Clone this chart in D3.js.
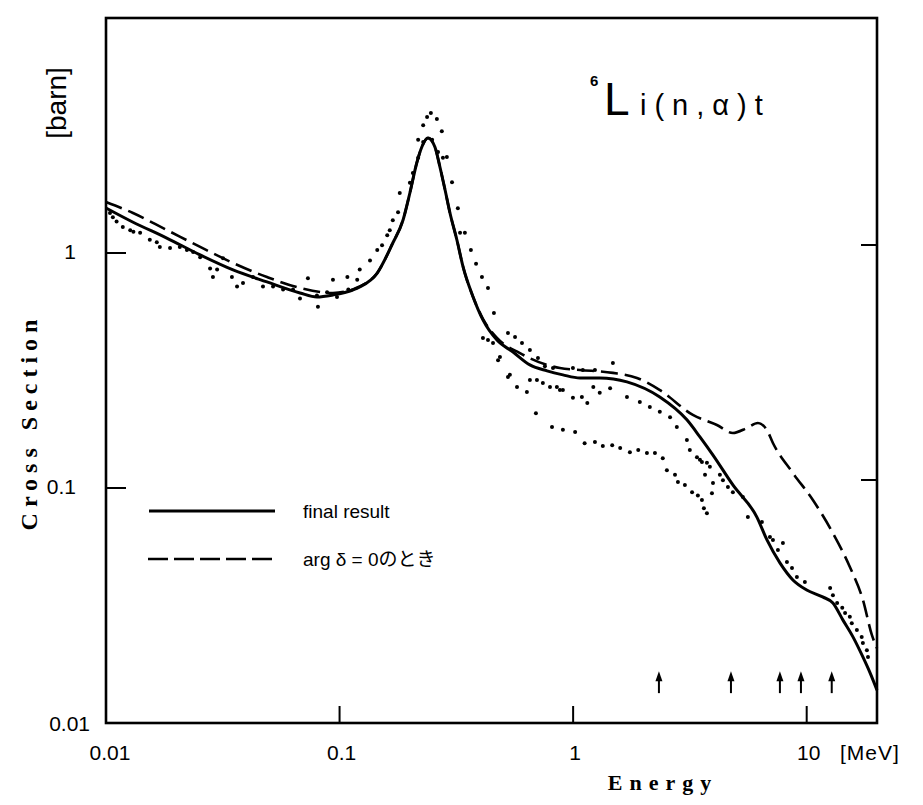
<!DOCTYPE html>
<html>
<head>
<meta charset="utf-8">
<script src="https://cdn.jsdelivr.net/npm/d3@7"></script>
<style>
body { margin: 0; background: #fff; }
</style>
</head>
<body>
<div id="canvas"></div>
<script>
"use strict"

/* Drawing size and plot frame */
let svgWidth = 923;
let svgHeight = 805;
let plotLeft = 106, plotRight = 877, plotTop = 18, plotBottom = 723;

/* final result (solid line): energy [MeV], cross section [barn] */
let solidEnergy = [0.01, 0.013, 0.0182, 0.0253, 0.035, 0.0489, 0.0677, 0.08, 0.0937, 0.114, 0.122,
    0.145, 0.169, 0.187, 0.2, 0.214, 0.225, 0.239, 0.256, 0.269, 0.283, 0.297, 0.318, 0.338,
    0.373, 0.411, 0.472, 0.553, 0.653, 0.773, 0.904, 1.07, 1.30, 1.70, 2.35, 3.07, 3.49, 3.97,
    4.83, 6.12, 6.76, 7.68, 8.73, 10.0, 11.7, 12.95, 14.3, 15.8, 17.4, 18.7, 20];
let solidSigma = [1.554, 1.355, 1.158, 0.981, 0.847, 0.753, 0.676, 0.65, 0.663, 0.696, 0.717,
    0.822, 1.103, 1.382, 1.80, 2.415, 2.826, 3.086, 2.826, 2.323, 1.854, 1.48, 1.136, 0.872,
    0.65, 0.519, 0.426, 0.379, 0.334, 0.315, 0.303, 0.294, 0.294, 0.283, 0.244, 0.195, 0.165, 0.138,
    0.103, 0.0752, 0.0601, 0.048, 0.0406, 0.0368, 0.0344, 0.0324, 0.0274, 0.0232, 0.0191, 0.0163, 0.0138];

/* arg delta = 0 (dashed line) */
let dashEnergy = [0.01, 0.01305, 0.0182, 0.0253, 0.035, 0.0489, 0.0677, 0.0937, 0.114, 0.122,
    0.145, 0.169, 0.187, 0.2, 0.214, 0.225, 0.239, 0.256, 0.269, 0.283, 0.297, 0.318, 0.338,
    0.373, 0.411, 0.472, 0.592, 0.773, 0.878, 1.069, 1.48, 1.876, 2.353, 3.256, 4.127, 4.83,
    5.546, 6.181, 6.756, 7.168, 8.729, 10.63, 12.95, 15.31, 17.41, 19.01, 20];
let dashSigma = [1.648, 1.48, 1.253, 1.061, 0.907, 0.79, 0.71, 0.676, 0.70, 0.72,
    0.822, 1.103, 1.382, 1.80, 2.415, 2.826, 3.086, 2.826, 2.323, 1.854, 1.48, 1.136, 0.872,
    0.65, 0.525, 0.435, 0.375, 0.334, 0.324, 0.318, 0.309, 0.294, 0.261, 0.2045, 0.1854, 0.1714,
    0.180, 0.189, 0.1765, 0.1554, 0.1158, 0.0889, 0.0643, 0.0461, 0.0334, 0.0237, 0.0208];

/* measured points, [energy, cross section] */
let dotsLow = [[0.0104, 1.48], [0.0107, 1.42], [0.0111, 1.36], [0.0118, 1.29], [0.0127, 1.25],
    [0.0131, 1.23], [0.014, 1.22], [0.0154, 1.14], [0.0165, 1.11], [0.017, 1.06], [0.0188, 1.05],
    [0.0207, 1.06], [0.0222, 1.03], [0.0236, 1.01], [0.0253, 0.96], [0.0279, 0.86], [0.0287, 0.79],
    [0.0299, 0.85], [0.0317, 0.95], [0.0346, 0.79], [0.0364, 0.72], [0.0386, 0.745], [0.0426, 0.79],
    [0.047, 0.72], [0.0519, 0.72], [0.0573, 0.70], [0.0632, 0.70], [0.0677, 0.64], [0.0732, 0.78],
    [0.08, 0.66], [0.0808, 0.59], [0.0884, 0.68], [0.0937, 0.77], [0.0975, 0.65], [0.108, 0.79],
    [0.109, 0.70], [0.119, 0.77], [0.122, 0.85]];

let dotsPeak = [[0.135, 0.93], [0.145, 1.03], [0.152, 1.08], [0.16, 1.19], [0.164, 1.25],
    [0.169, 1.38], [0.178, 1.49], [0.181, 1.80], [0.2, 1.99], [0.206, 2.19], [0.217, 2.54],
    [0.228, 3.50], [0.237, 3.79], [0.246, 3.94], [0.261, 3.72], [0.274, 3.30], [0.288, 2.56],
    [0.303, 2.00], [0.321, 1.55], [0.344, 1.22], [0.365, 1.03], [0.384, 0.90], [0.407, 0.79],
    [0.432, 0.71], [0.458, 0.555], [0.526, 0.457], [0.564, 0.439], [0.604, 0.414], [0.653, 0.387],
    [0.707, 0.357], [0.757, 0.33], [0.82, 0.324], [0.998, 0.324], [1.10, 0.318], [1.24, 0.318],
    [1.48, 0.34]];

let dotsMid = [[0.217, 3.03], [0.228, 2.97], [0.249, 3.03], [0.264, 2.69], [0.277, 2.54],
    [0.328, 1.22], [0.411, 0.435], [0.432, 0.426], [0.454, 0.414], [0.477, 0.35], [0.486, 0.361],
    [0.526, 0.297], [0.536, 0.303], [0.575, 0.269], [0.634, 0.256], [0.653, 0.288], [0.70, 0.288],
    [0.742, 0.28], [0.796, 0.269], [0.852, 0.269], [0.878, 0.261], [0.904, 0.261], [0.998, 0.242],
    [1.09, 0.244], [1.15, 0.23], [1.22, 0.269], [1.30, 0.254], [1.44, 0.266], [1.70, 0.244],
    [1.93, 0.232], [2.13, 0.221], [2.35, 0.211], [2.60, 0.20], [2.78, 0.182], [3.07, 0.16],
    [3.16, 0.145], [3.49, 0.132], [3.74, 0.128], [3.67, 0.114], [3.97, 0.105], [3.93, 0.095]];

let dotsLowBranch = [[0.693, 0.208], [0.812, 0.182], [0.904, 0.177], [1.02, 0.173], [1.12, 0.155],
    [1.24, 0.157], [1.34, 0.151], [1.47, 0.152], [1.59, 0.148], [1.75, 0.142], [1.90, 0.145],
    [2.07, 0.141], [2.24, 0.141], [2.42, 0.134], [2.52, 0.119], [2.73, 0.114], [2.81, 0.106],
    [3.01, 0.103], [3.23, 0.096], [3.42, 0.093], [3.56, 0.089], [3.63, 0.082], [3.74, 0.078]];

let dotsHigh = [[3.39, 0.135], [3.56, 0.129], [3.85, 0.123], [4.25, 0.114], [4.38, 0.108],
    [4.60, 0.101], [4.83, 0.096], [5.33, 0.0915], [5.60, 0.0752], [6.43, 0.0717], [6.96, 0.0619],
    [7.17, 0.0601], [7.53, 0.0545], [7.91, 0.0583], [8.23, 0.0484], [8.65, 0.0457], [9.08, 0.0418],
    [9.82, 0.0398], [12.6, 0.0375], [12.95, 0.035], [13.5, 0.0324], [14.2, 0.0309], [14.6, 0.0294],
    [15.3, 0.0283], [15.6, 0.0266], [16.4, 0.0249], [17.2, 0.0232], [17.4, 0.0219], [18.1, 0.0204],
    [18.3, 0.0191]];

/* arrows marking energies near the bottom */
let arrowEnergy = [2.33, 4.74, 7.68, 9.45, 12.8];
let arrowTipSigma = 0.0166;
let arrowTailSigma = 0.0134;

/* ticks */
let xTickValues = [0.1, 1, 10];
let xLabelValues = [0.01, 0.1, 1, 10];
let xLabelText = ["0.01", "0.1", "1", "10"];
let yTickValues = [0.1, 1];
let yLabelValues = [0.01, 0.1, 1];
let yLabelText = ["0.01", "0.1", "1"];

/* Create drawing canvas */
let svg = d3.select("#canvas")
    .append("svg")
    .attr("width", svgWidth)
    .attr("height", svgHeight);

let xScale = d3.scaleLog()
    .domain([0.01, 20])
    .range([plotLeft, plotRight]);

let yScale = d3.scaleLog()
    .domain([0.01, 10])
    .range([plotBottom, plotTop]);

let sansFont = "'Liberation Sans', Arial, 'Noto Sans CJK JP', sans-serif";
let serifFont = "'Liberation Serif', 'DejaVu Serif', serif";

/* curves */
let line = d3.line()
    .x(function (d) { return xScale(d[0]); })
    .y(function (d) { return yScale(d[1]); })
    .curve(d3.curveMonotoneX);

let solidData = solidEnergy.map(function (e, i) { return [e, solidSigma[i]]; });
let dashData = dashEnergy.map(function (e, i) { return [e, dashSigma[i]]; });

let plot = svg.append("g");

plot.append("path")
    .datum(dashData)
    .attr("d", line)
    .attr("fill", "none")
    .attr("stroke", "black")
    .attr("stroke-width", 2.6)
    .attr("stroke-dasharray", "17,7");

plot.append("path")
    .datum(solidData)
    .attr("d", line)
    .attr("fill", "none")
    .attr("stroke", "black")
    .attr("stroke-width", 3);

/* measured points */
let allDots = dotsLow.concat(dotsPeak, dotsMid, dotsLowBranch, dotsHigh);
plot.selectAll("circle.dot")
    .data(allDots)
    .join("circle")
    .classed("dot", true)
    .attr("cx", function (d) { return xScale(d[0]); })
    .attr("cy", function (d) { return yScale(d[1]); })
    .attr("r", 2)
    .attr("fill", "black");

/* arrows */
arrowEnergy.forEach(function (e) {
    let x = xScale(e);
    let yTip = yScale(arrowTipSigma);
    plot.append("line")
        .attr("x1", x).attr("x2", x)
        .attr("y1", yTip + 5)
        .attr("y2", yScale(arrowTailSigma))
        .attr("stroke", "black")
        .attr("stroke-width", 2);
    plot.append("path")
        .attr("d", "M" + x + "," + yTip + "L" + (x - 3.5) + "," + (yTip + 10) +
            "L" + (x + 3.5) + "," + (yTip + 10) + "Z")
        .attr("fill", "black");
});

/* frame */
svg.append("rect")
    .attr("x", plotLeft)
    .attr("y", plotTop)
    .attr("width", plotRight - plotLeft)
    .attr("height", plotBottom - plotTop)
    .attr("fill", "none")
    .attr("stroke", "black")
    .attr("stroke-width", 2.6);

/* inward ticks */
xTickValues.forEach(function (v) {
    svg.append("line")
        .attr("x1", xScale(v)).attr("x2", xScale(v))
        .attr("y1", plotBottom).attr("y2", plotBottom - 17)
        .attr("stroke", "black").attr("stroke-width", 2);
});
yTickValues.forEach(function (v) {
    svg.append("line")
        .attr("x1", plotLeft).attr("x2", plotLeft + 20)
        .attr("y1", yScale(v)).attr("y2", yScale(v))
        .attr("stroke", "black").attr("stroke-width", 2);
    svg.append("line")
        .attr("x1", plotRight).attr("x2", plotRight - 16)
        .attr("y1", yScale(v) - 8).attr("y2", yScale(v) - 8)
        .attr("stroke", "black").attr("stroke-width", 2);
});

/* tick labels */
xLabelValues.forEach(function (v, i) {
    svg.append("text")
        .attr("x", xScale(v) + (i == 0 ? 4 : 2))
        .attr("y", 760)
        .attr("text-anchor", "middle")
        .style("font-family", sansFont)
        .style("font-size", "21px")
        .text(xLabelText[i]);
});
svg.append("text")
    .attr("x", 840)
    .attr("y", 760)
    .style("font-family", sansFont)
    .style("font-size", "21px")
    .style("letter-spacing", "1px")
    .text("[MeV]");

yLabelValues.forEach(function (v, i) {
    svg.append("text")
        .attr("x", i == 0 ? 90 : 76)
        .attr("y", yScale(v) + (i == 0 ? 2 : 0))
        .attr("text-anchor", "end")
        .attr("dominant-baseline", "middle")
        .style("font-family", sansFont)
        .style("font-size", "21px")
        .text(yLabelText[i]);
});

/* axis titles */
svg.append("text")
    .attr("transform", "translate(66,103) rotate(-90)")
    .attr("text-anchor", "middle")
    .style("font-family", sansFont)
    .style("font-size", "28px")
    .text("[barn]");

svg.append("text")
    .attr("transform", "translate(37,422) rotate(-90)")
    .attr("text-anchor", "middle")
    .style("font-family", serifFont)
    .style("font-weight", "bold")
    .style("font-size", "24px")
    .style("letter-spacing", "6px")
    .text("Cross Section");

svg.append("text")
    .attr("x", 663)
    .attr("y", 790)
    .attr("text-anchor", "middle")
    .style("font-family", serifFont)
    .style("font-weight", "bold")
    .style("font-size", "22px")
    .style("letter-spacing", "7px")
    .text("Energy");

/* reaction title */
svg.append("text")
    .attr("x", 590)
    .attr("y", 86)
    .style("font-family", sansFont)
    .style("font-weight", "bold")
    .style("font-size", "15px")
    .text("6");
svg.append("text")
    .attr("x", 604)
    .attr("y", 115)
    .style("font-family", sansFont)
    .style("font-weight", "300")
    .style("font-size", "46px")
    .text("L");
svg.append("text")
    .attr("x", 640)
    .attr("y", 115)
    .style("font-family", sansFont)
    .style("font-size", "29px")
    .style("letter-spacing", "8px")
    .text("i(n,\u03b1)t");

/* legend */
svg.append("line")
    .attr("x1", 149).attr("x2", 275)
    .attr("y1", 511).attr("y2", 511)
    .attr("stroke", "black").attr("stroke-width", 3);
svg.append("text")
    .attr("x", 303).attr("y", 518)
    .style("font-family", sansFont)
    .style("font-size", "19px")
    .text("final result");

svg.append("line")
    .attr("x1", 148).attr("x2", 275)
    .attr("y1", 559).attr("y2", 559)
    .attr("stroke", "black").attr("stroke-width", 2.6)
    .attr("stroke-dasharray", "20,6");
svg.append("text")
    .attr("x", 303).attr("y", 566)
    .style("font-family", sansFont)
    .style("font-size", "19px")
    .text("arg \u03b4 = 0のとき");
</script>
</body>
</html>
